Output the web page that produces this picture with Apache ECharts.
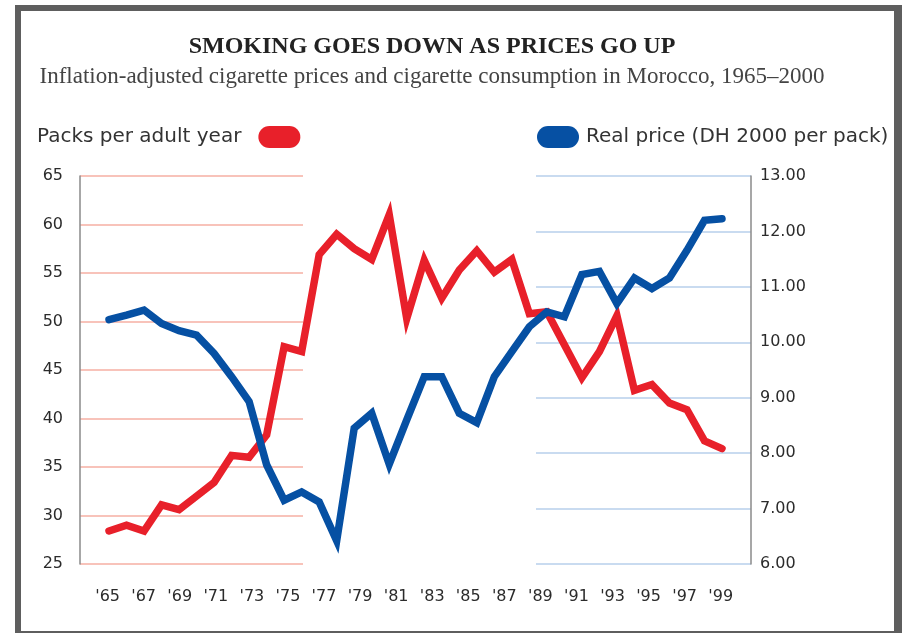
<!DOCTYPE html>
<html>
<head>
<meta charset="utf-8">
<title>Smoking goes down as prices go up</title>
<script src="https://cdn.jsdelivr.net/npm/echarts@6/dist/echarts.min.js"></script>
<style>
  html, body { margin: 0; padding: 0; background: #ffffff; }
  #chart { width: 902px; height: 633px; }
</style>
</head>
<body>
<div id="chart"></div>
<script>
// Morocco, 1965-2000: consumption and inflation-adjusted cigarette price
const years = [1965, 1966, 1967, 1968, 1969, 1970, 1971, 1972, 1973, 1974,
               1975, 1976, 1977, 1978, 1979, 1980, 1981, 1982, 1983, 1984,
               1985, 1986, 1987, 1988, 1989, 1990, 1991, 1992, 1993, 1994,
               1995, 1996, 1997, 1998, 1999, 2000];

// packs per adult per year (left scale)
const packsPerAdult = [28.4, 29.0, 28.4, 31.1, 30.6, 32.0, 33.4, 36.2, 36.0, 38.3,
                       47.4, 46.9, 56.9, 59.0, 57.5, 56.4, 61.0, 50.3, 56.3, 52.4,
                       55.3, 57.3, 55.1, 56.4, 50.8, 51.0, 47.6, 44.2, 46.9, 50.6,
                       42.9, 43.5, 41.6, 40.9, 37.7, 36.9];

// real price, DH 2000 per pack (right scale)
const realPrice = [10.41, 10.49, 10.58, 10.34, 10.21, 10.13, 9.80, 9.38, 8.93, 7.79,
                   7.15, 7.30, 7.12, 6.42, 8.45, 8.72, 7.80, 8.60, 9.38, 9.38,
                   8.72, 8.55, 9.38, 9.83, 10.28, 10.55, 10.46, 11.22, 11.28, 10.70,
                   11.16, 10.97, 11.16, 11.66, 12.20, 12.23];

// year ticks shown along the bottom
const tickYears = [1965, 1967, 1969, 1971, 1973, 1975, 1977, 1979, 1981, 1983,
                   1985, 1987, 1989, 1991, 1993, 1995, 1997, 1999];

const packsName = 'Packs per adult year';
const priceName = 'Real price (DH 2000 per pack)';

const RED = '#e8202a';
const BLUE = '#0650a3';
const FRAME = '#5e5e5e';
const INK = '#2b2b2b';
const SANS = '"DejaVu Sans", Verdana, sans-serif';
const SERIF = '"Liberation Serif", "Times New Roman", serif';
const PILL = 'path://M11,0 L31,0 A11,11 0 0 1 31,22 L11,22 A11,11 0 0 1 11,0 Z';

const chart = echarts.init(document.getElementById('chart'), null, { renderer: 'canvas' });

const hiddenX = (gridIndex) => ({
  type: 'value', gridIndex: gridIndex, show: false, min: 0, max: 1
});

const option = {
  backgroundColor: '#ffffff',
  animation: false,
  title: [
    {
      text: 'SMOKING GOES DOWN AS PRICES GO UP',
      left: 427, top: 30, textAlign: 'center',
      textStyle: { fontFamily: SERIF, fontSize: 24, fontWeight: 'bold', color: '#222222' }
    },
    {
      text: 'Inflation-adjusted cigarette prices and cigarette consumption in Morocco, 1965–2000',
      left: 427, top: 60, textAlign: 'center',
      textStyle: { fontFamily: SERIF, fontSize: 23, fontWeight: 'normal', color: '#444444' }
    }
  ],
  legend: [
    {
      data: [packsName], left: 37, top: 126, padding: 0, align: 'right',
      icon: PILL, itemWidth: 42, itemHeight: 22,
      textStyle: { fontFamily: SANS, fontSize: 20, color: '#333333', padding: [0, 12, 0, 0] },
      selectedMode: false
    },
    {
      data: [priceName], left: 537, top: 126, padding: 0, align: 'left',
      icon: PILL, itemWidth: 42, itemHeight: 22,
      textStyle: { fontFamily: SANS, fontSize: 20, color: '#333333', padding: [0, 0, 0, 2] },
      selectedMode: false
    }
  ],
  grid: [
    { left: 80, right: 151, top: 176, bottom: 69, containLabel: false },   // data
    { left: 80, width: 223, top: 176, bottom: 69, containLabel: false },   // left rules
    { left: 536, right: 151, top: 176, bottom: 69, containLabel: false }   // right rules
  ],
  xAxis: [
    // scale that carries the two series
    { type: 'value', gridIndex: 0, show: false, min: 1963.344, max: 2001.656 },
    // year labels along the bottom
    {
      type: 'value', gridIndex: 0, position: 'bottom', min: 1963.469, max: 2000.68,
      axisLine: { show: false }, axisTick: { show: false }, splitLine: { show: false },
      axisLabel: {
        customValues: tickYears, margin: 25,
        fontFamily: SANS, fontSize: 16, color: INK,
        formatter: (v) => "'" + String(v).slice(2)
      }
    },
    hiddenX(1),
    hiddenX(2)
  ],
  yAxis: [
    {
      type: 'value', gridIndex: 0, position: 'left', min: 25, max: 65, interval: 5,
      axisLine: { show: true, lineStyle: { color: '#8a8a8a', width: 1.5 } },
      axisTick: { show: false }, splitLine: { show: false },
      axisLabel: { margin: 17, fontFamily: SANS, fontSize: 16, color: INK }
    },
    {
      type: 'value', gridIndex: 0, position: 'right', min: 6, max: 13, interval: 1,
      axisLine: { show: true, lineStyle: { color: '#8a8a8a', width: 1.5 } },
      axisTick: { show: false }, splitLine: { show: false },
      axisLabel: {
        margin: 9, fontFamily: SANS, fontSize: 16, color: INK,
        formatter: (v) => v.toFixed(2)
      }
    },
    {
      type: 'value', gridIndex: 1, min: 25, max: 65, interval: 5,
      axisLine: { show: false }, axisTick: { show: false }, axisLabel: { show: false },
      splitLine: { show: true, lineStyle: { color: '#f8c3ba', width: 2 } }
    },
    {
      type: 'value', gridIndex: 2, min: 6, max: 13, interval: 1,
      axisLine: { show: false }, axisTick: { show: false }, axisLabel: { show: false },
      splitLine: { show: true, lineStyle: { color: '#c9dbf0', width: 2 } }
    }
  ],
  series: [
    {
      name: packsName, type: 'line', xAxisIndex: 0, yAxisIndex: 0,
      data: years.map((y, i) => [y, packsPerAdult[i]]),
      showSymbol: false, symbol: 'none', color: RED,
      lineStyle: { color: RED, width: 7.5, join: 'miter', cap: 'round' },
      z: 3
    },
    {
      name: priceName, type: 'line', xAxisIndex: 0, yAxisIndex: 1,
      data: years.map((y, i) => [y, realPrice[i]]),
      showSymbol: false, symbol: 'none', color: BLUE,
      lineStyle: { color: BLUE, width: 7.5, join: 'miter', cap: 'round' },
      z: 4
    }
  ],
  graphic: [
    // page frame
    { type: 'rect', shape: { x: 15, y: 5, width: 887, height: 6 }, style: { fill: FRAME }, silent: true },
    { type: 'rect', shape: { x: 15, y: 5, width: 6, height: 628 }, style: { fill: FRAME }, silent: true },
    { type: 'rect', shape: { x: 894, y: 5, width: 8, height: 628 }, style: { fill: FRAME }, silent: true },
    { type: 'rect', shape: { x: 15, y: 631, width: 887, height: 2 }, style: { fill: FRAME }, silent: true }
  ]
};

chart.setOption(option);
</script>
</body>
</html>
